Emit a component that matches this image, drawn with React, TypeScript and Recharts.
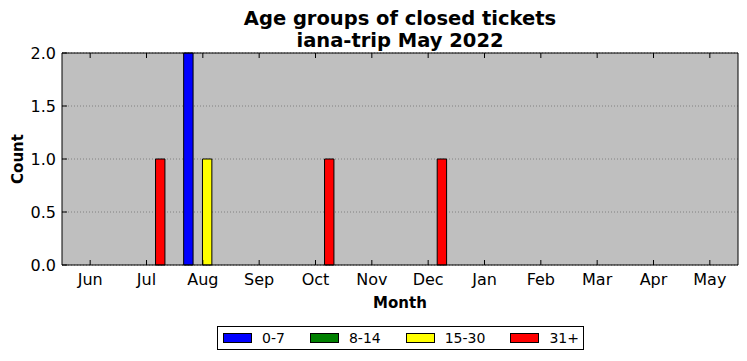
import { BarChart, Bar, XAxis, YAxis, CartesianGrid, Legend } from "recharts"

const months = ["Jun", "Jul", "Aug", "Sep", "Oct", "Nov", "Dec", "Jan", "Feb", "Mar", "Apr", "May"]
const age0to7 = [0, 0, 2, 0, 0, 0, 0, 0, 0, 0, 0, 0]
const age8to14 = [0, 0, 0, 0, 0, 0, 0, 0, 0, 0, 0, 0]
const age15to30 = [0, 0, 1, 0, 0, 0, 0, 0, 0, 0, 0, 0]
const age31plus = [0, 1, 0, 0, 1, 0, 1, 0, 0, 0, 0, 0]
const yTicks = [0, 0.5, 1, 1.5, 2]

const series = [
    { key: "a", name: "0-7", color: "#0000ff" },
    { key: "b", name: "8-14", color: "#008000" },
    { key: "c", name: "15-30", color: "#ffff00" },
    { key: "d", name: "31+", color: "#ff0000" }
]

const dados = months.map((m, i) => ({
    month: m,
    a: age0to7[i],
    b: age8to14[i],
    c: age15to30[i],
    d: age31plus[i]
}))

const FONT = "'DejaVu Sans', sans-serif"
const TICK = 5

// ticks pointing into the plot, matplotlib classic style
const BottomTick = ({ x, y, payload }: any) => (
    <g>
        <line x1={x} x2={x} y1={y} y2={y - TICK} stroke="#000" />
        <text x={x} y={y + 20} textAnchor="middle" fontSize={16} fontFamily={FONT} fill="#000">
            {payload.value}
        </text>
    </g>
)
const TopTick = ({ x, y }: any) => <line x1={x} x2={x} y1={y} y2={y + TICK} stroke="#000" />
const LeftTick = ({ x, y, payload }: any) => (
    <g>
        <line x1={x} x2={x + TICK} y1={y} y2={y} stroke="#000" />
        <text x={x - 6} y={y + 6} textAnchor="end" fontSize={16} fontFamily={FONT} fill="#000">
            {Number(payload.value).toFixed(1)}
        </text>
    </g>
)
const RightTick = ({ x, y }: any) => <line x1={x} x2={x - TICK} y1={y} y2={y} stroke="#000" />

const Legenda = () => (
    <div style={{ display: "flex", justifyContent: "center", paddingLeft: 62 }}>
        <div
            style={{
                display: "flex",
                alignItems: "center",
                border: "1px solid #000",
                height: 22,
                padding: "0 4px 0 5px",
                fontFamily: FONT,
                fontSize: 14,
                background: "#fff"
            }}
        >
            {series.map((s, i) => (
                <div key={s.key} style={{ display: "flex", alignItems: "center", marginLeft: i === 0 ? 0 : 25 }}>
                    <span style={{ width: 27, height: 8, background: s.color, border: "1px solid #000", marginRight: 10 }} />
                    <span>{s.name}</span>
                </div>
            ))}
        </div>
    </div>
)

export default function App() {
    return (
        <div style={{ position: "absolute", left: 0, top: 0, width: 747, height: 361, background: "#fff" }}>
            <div
                style={{
                    position: "absolute",
                    left: 62,
                    width: 676,
                    top: 8,
                    textAlign: "center",
                    fontFamily: FONT,
                    fontWeight: "bold",
                    fontSize: 19.5,
                    lineHeight: "22px"
                }}
            >
                <div>Age groups of closed tickets</div>
                <div>iana-trip May 2022</div>
            </div>
            <BarChart
                width={747}
                height={361}
                data={dados}
                margin={{ top: 52, right: 8, left: 0, bottom: 11 }}
                barCategoryGap="16.7%"
                barGap={0}
                barSize={9.4}
            >
                <CartesianGrid
                    vertical={false}
                    fill="#bfbfbf"
                    fillOpacity={1}
                    stroke="#808080"
                    strokeDasharray="1 2"
                />
                <XAxis
                    dataKey="month"
                    height={61}
                    interval={0}
                    tickSize={0}
                    tickMargin={0}
                    tickLine={false}
                    tick={<BottomTick />}
                    axisLine={{ stroke: "#000" }}
                    label={{
                        value: "Month",
                        position: "insideBottom",
                        offset: 18,
                        style: { fontFamily: FONT, fontWeight: "bold", fontSize: 15, fill: "#000" }
                    }}
                />
                <XAxis
                    xAxisId="top"
                    orientation="top"
                    dataKey="month"
                    height={1}
                    interval={0}
                    tickSize={0}
                    tickMargin={0}
                    tickLine={false}
                    tick={<TopTick />}
                    axisLine={{ stroke: "#000" }}
                />
                <YAxis
                    width={62}
                    domain={[0, 2]}
                    ticks={yTicks}
                    interval={0}
                    tickSize={0}
                    tickMargin={0}
                    tickLine={false}
                    tick={<LeftTick />}
                    axisLine={{ stroke: "#000" }}
                    label={({ viewBox }: any) => {
                        const cx = viewBox.x + 23
                        const cy = viewBox.y + viewBox.height / 2
                        return (
                            <text
                                x={cx}
                                y={cy}
                                transform={`rotate(-90 ${cx} ${cy})`}
                                textAnchor="middle"
                                fontFamily={FONT}
                                fontWeight="bold"
                                fontSize={15}
                                fill="#000"
                            >
                                Count
                            </text>
                        )
                    }}
                />
                <YAxis
                    yAxisId="right"
                    orientation="right"
                    width={1}
                    domain={[0, 2]}
                    ticks={yTicks}
                    interval={0}
                    tickSize={0}
                    tickMargin={0}
                    tickLine={false}
                    tick={<RightTick />}
                    axisLine={{ stroke: "#000" }}
                />
                <Legend verticalAlign="bottom" content={<Legenda />} />
                {series.map((s) => (
                    <Bar
                        key={s.key}
                        dataKey={s.key}
                        name={s.name}
                        fill={s.color}
                        stroke="#000"
                        strokeWidth={1}
                        isAnimationActive={false}
                    />
                ))}
            </BarChart>
        </div>
    )
}
